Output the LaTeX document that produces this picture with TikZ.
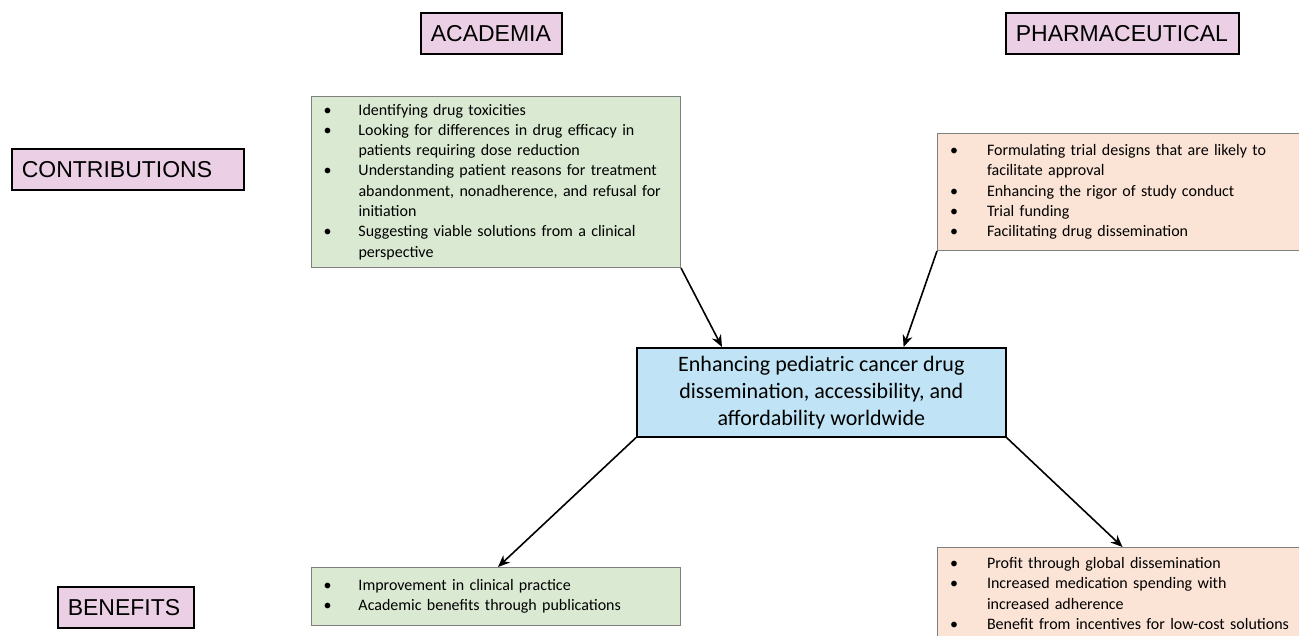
\documentclass[tikz,border=0pt]{standalone}
\usepackage{fontspec}
\setmainfont{Carlito}
\newfontfamily\labelfont{Liberation Sans}
\usetikzlibrary{arrows.meta, positioning}
\definecolor{labelpink}{HTML}{EBCFE4}
\definecolor{acadgreen}{HTML}{DAE9D2}
\definecolor{pharmorange}{HTML}{FBE3D6}
\definecolor{centreblue}{HTML}{C0E4F5}
\definecolor{boxgrey}{HTML}{7F7F7F}

\newcommand{\itemrow}[1]{\textbullet & #1\\}
\newcommand{\moreline}[1]{ & #1\\}

\begin{document}
\begin{tikzpicture}[x=1pt, y=-1pt,
    tag/.style={draw, line width=1.6pt, fill=labelpink, anchor=north west,
                inner xsep=10pt, inner ysep=0pt, minimum height=41pt, align=left,
                font=\labelfont\fontsize{23}{26}\selectfont},
    list/.style={draw=boxgrey, line width=1pt, anchor=north west, inner xsep=12pt,
                 align=left, text width=345pt, font=\fontsize{16}{20.3}\selectfont},
    hub/.style={draw, line width=1.6pt, fill=centreblue, anchor=north west,
                minimum width=369pt, minimum height=89pt, align=center,
                font=\fontsize{22}{27}\selectfont},
    arr/.style={-{Stealth[length=12pt, width=10pt]}, line width=1.6pt}]
  \useasboundingbox (0,0) rectangle (1299,635);

  % row and column labels
  \node[tag, text width=121pt] (acad) at (420,12) {ACADEMIA};
  \node[tag, text width=213pt] (pharm) at (1005,12) {PHARMACEUTICAL};
  \node[tag, text width=212pt] (contrib) at (11,148) {CONTRIBUTIONS};
  \node[tag, text width=116pt] (benefit) at (57,586) {BENEFITS};

  % contributions
  \node[list, fill=acadgreen, minimum width=369pt, minimum height=171pt] (acadcon) at (311,96) {%
    \begin{tabular}{@{}p{35pt}@{}l@{}}
      \itemrow{Identifying drug toxicities}
      \itemrow{Looking for differences in drug efficacy in}
      \moreline{patients requiring dose reduction}
      \itemrow{Understanding patient reasons for treatment}
      \moreline{abandonment, nonadherence, and refusal for}
      \moreline{initiation}
      \itemrow{Suggesting viable solutions from a clinical}
      \moreline{perspective}
    \end{tabular}};
  \node[list, fill=pharmorange, minimum width=370pt, minimum height=117pt] (pharmcon) at (937,133) {%
    \begin{tabular}{@{}p{37pt}@{}l@{}}
      \itemrow{Formulating trial designs that are likely to}
      \moreline{facilitate approval}
      \itemrow{Enhancing the rigor of study conduct}
      \itemrow{Trial funding}
      \itemrow{Facilitating drug dissemination}
    \end{tabular}};

  % shared goal
  \node[hub] (goal) at (636,347) {Enhancing pediatric cancer drug\\dissemination, accessibility, and\\affordability worldwide};

  % benefits
  \node[list, fill=acadgreen, minimum width=369pt, minimum height=58pt] (acadben) at (311,567) {%
    \begin{tabular}{@{}p{35pt}@{}l@{}}
      \itemrow{Improvement in clinical practice}
      \itemrow{Academic benefits through publications}
    \end{tabular}};
  \node[list, fill=pharmorange, minimum width=370pt, minimum height=95pt] (pharmben) at (937,547) {%
    \begin{tabular}{@{}p{37pt}@{}l@{}}
      \itemrow{Profit through global dissemination}
      \itemrow{Increased medication spending with}
      \moreline{increased adherence}
      \itemrow{Benefit from incentives for low-cost solutions}
    \end{tabular}};

  \draw[arr] (acadcon.south east) -- ([xshift=86pt]goal.north west);
  \draw[arr] (pharmcon.south west) -- ([xshift=-103pt]goal.north east);
  \draw[arr] (goal.south west) -- ([xshift=2pt]acadben.north);
  \draw[arr] (goal.south east) -- (pharmben.north);
\end{tikzpicture}
\end{document}
